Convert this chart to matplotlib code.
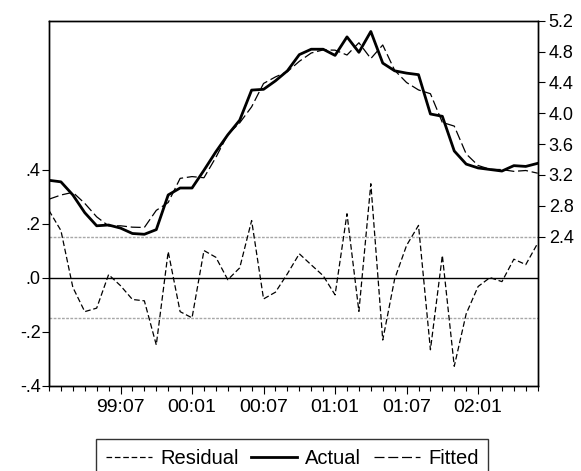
import numpy as np
import matplotlib
matplotlib.use("Agg")
import matplotlib.pyplot as plt
from matplotlib.ticker import FixedLocator, MultipleLocator
from matplotlib.lines import Line2D

plt.rcParams['font.family'] = ['Liberation Sans', 'DejaVu Sans']

# monthly sample 1999:01 - 2002:06
tick_pos = [6, 12, 18, 24, 30, 36]
tick_labels = ['99:07', '00:01', '00:07', '01:01', '01:07', '02:01']

actual = [3.13, 3.11, 2.94, 2.71, 2.54, 2.55, 2.51, 2.44, 2.43, 2.49,
          2.94, 3.03, 3.03, 3.26, 3.50, 3.72, 3.91, 4.30, 4.31, 4.42,
          4.55, 4.76, 4.83, 4.83, 4.75, 4.99, 4.79, 5.06, 4.65, 4.55,
          4.52, 4.50, 3.99, 3.96, 3.51, 3.34, 3.29, 3.27, 3.25, 3.32,
          3.31, 3.35]

fitted = [2.885, 2.939, 2.974, 2.831, 2.656, 2.538, 2.540, 2.522, 2.518, 2.740,
          2.842, 3.155, 3.178, 3.163, 3.427, 3.725, 3.875, 4.083, 4.386, 4.471,
          4.539, 4.673, 4.781, 4.821, 4.818, 4.755, 4.914, 4.709, 4.885, 4.556,
          4.398, 4.302, 4.253, 3.881, 3.833, 3.472, 3.322, 3.273, 3.269, 3.246,
          3.257, 3.222]

residual = [0.249, 0.175, -0.035, -0.125, -0.112, 0.012, -0.029, -0.080, -0.085, -0.248,
            0.097, -0.125, -0.148, 0.101, 0.076, -0.007, 0.037, 0.212, -0.078, -0.053,
            0.015, 0.089, 0.048, 0.008, -0.063, 0.237, -0.124, 0.348, -0.230, -0.004,
            0.120, 0.194, -0.266, 0.083, -0.327, -0.133, -0.032, 0.001, -0.014, 0.069,
            0.049, 0.128]

se_band = 0.15

t = np.arange(len(actual))

fig = plt.figure(figsize=(5.81, 4.71), dpi=100)
ax = fig.add_axes([49/581, 1-386/471, (537.7-49)/581, (386-20.7)/471])
ax2 = ax.twinx()

# residual part on the left scale
ax.axhline(0, color='black', lw=1.0)
ax.axhline(se_band, color='#a8a8a8', lw=1.0, ls=(0, (2, 1)))
ax.axhline(-se_band, color='#a8a8a8', lw=1.0, ls=(0, (2, 1)))
ax.plot(t, residual, color='black', lw=0.9, ls=(0, (4.5, 2.2)))

# actual and fitted on the right scale
ax2.plot(t, actual, color='black', lw=2.0)
ax2.plot(t, fitted, color='black', lw=0.9, ls=(0, (8, 3)))

ax.set_xlim(0, len(actual) - 1)
ax.set_ylim(-0.4, 0.951)
ax2.set_ylim(0.462, 5.2)

ax.yaxis.set_major_locator(FixedLocator([-0.4, -0.2, 0.0, 0.2, 0.4]))
ax.set_yticklabels(['-.4', '-.2', '.0', '.2', '.4'])
ax2.yaxis.set_major_locator(FixedLocator([2.4, 2.8, 3.2, 3.6, 4.0, 4.4, 4.8, 5.2]))
ax2.set_yticklabels(['2.4', '2.8', '3.2', '3.6', '4.0', '4.4', '4.8', '5.2'])

ax.xaxis.set_major_locator(FixedLocator(tick_pos))
ax.set_xticklabels(tick_labels)
ax.xaxis.set_minor_locator(MultipleLocator(1))

ax.tick_params(axis='x', which='major', direction='out', length=6, width=0.8,
               labelsize=14, pad=3)
ax.tick_params(axis='x', which='minor', direction='out', length=3.5, width=0.8)
ax.tick_params(axis='y', direction='out', length=5, width=0.8, labelsize=13, pad=1)
ax2.tick_params(axis='y', direction='out', length=5, width=0.8, labelsize=13, pad=3)

for a in (ax, ax2):
    for s in a.spines.values():
        s.set_linewidth(1.0)

handles = [Line2D([], [], color='black', lw=0.9, ls=(0, (4.5, 2.2))),
           Line2D([], [], color='black', lw=2.0),
           Line2D([], [], color='black', lw=0.9, ls=(0, (8, 3)))]
leg = fig.legend(handles, ['Residual', 'Actual', 'Fitted'], loc='upper center',
                 bbox_to_anchor=(0.503, 1-439/471), ncol=3, fontsize=14.5,
                 frameon=True, fancybox=False, edgecolor='black',
                 handlelength=2.3, handletextpad=0.4, columnspacing=0.6,
                 borderpad=0.5, borderaxespad=0)
leg.get_frame().set_linewidth(1.0)

fig.savefig('out.png', dpi=100)
